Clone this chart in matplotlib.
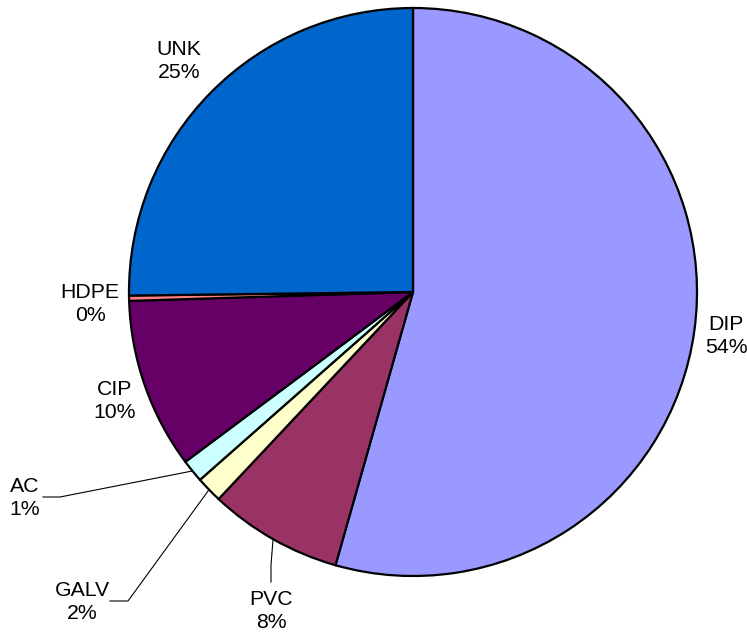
import numpy as np
import matplotlib
matplotlib.use("Agg")
import matplotlib.pyplot as plt

# ---- data ----
categories = ["DIP", "PVC", "GALV", "AC", "CIP", "HDPE", "UNK"]
shares = [54.4, 7.6, 1.5, 1.3, 9.7, 0.3, 25.2]
colors = ["#9999FF", "#993366", "#FFFFCC", "#CCFFFF", "#660066", "#FF8080", "#0066CC"]

# ---- layout (pixel coords of the 747x634 canvas, y measured from top) ----
W, H = 747, 634
center_px = (413, 292)
radius_px = 284
label_pos_px = {
    "DIP": (726, 336), "PVC": (271, 611), "GALV": (82, 602), "AC": (25, 498),
    "CIP": (115, 401), "HDPE": (90, 304), "UNK": (179, 61),
}
# leader elbows for labels with leader lines
leaders_px = {
    "AC": [(43, 497), (60, 497)],
    "GALV": [(110, 601), (128, 601)],
    "PVC": [(271, 582), (271, 565)],
}

plt.rcParams['font.family'] = ['Liberation Sans', 'DejaVu Sans']

fig = plt.figure(figsize=(W / 100, H / 100), dpi=100)
ax = fig.add_axes([0, 0, 1, 1])

cx, cy = center_px[0], H - center_px[1]
wedges, _ = ax.pie(shares, colors=colors, startangle=90, counterclock=False,
                   center=(cx, cy), radius=radius_px, frame=True,
                   wedgeprops=dict(edgecolor='black', linewidth=1.6))
ax.set_xlim(0, W)
ax.set_ylim(0, H)
ax.set_aspect('auto')
ax.axis('off')

total = sum(shares)
for cat, val, w in zip(categories, shares, wedges):
    pct = int(val / total * 100 + 0.5)
    lx, ly = label_pos_px[cat]
    ax.text(lx, H - ly, f"{cat}\n{pct}%", ha='center', va='center',
            fontsize=15.3, linespacing=1.3, color='black')
    if cat in leaders_px:
        mid = np.deg2rad((w.theta1 + w.theta2) / 2)
        ex = cx + radius_px * np.cos(mid)
        ey = cy + radius_px * np.sin(mid)
        pts = leaders_px[cat]
        xs = [p[0] for p in pts] + [ex]
        ys = [H - p[1] for p in pts] + [ey]
        ax.plot(xs, ys, color='black', linewidth=0.8)

fig.savefig("out.png", dpi=100)
